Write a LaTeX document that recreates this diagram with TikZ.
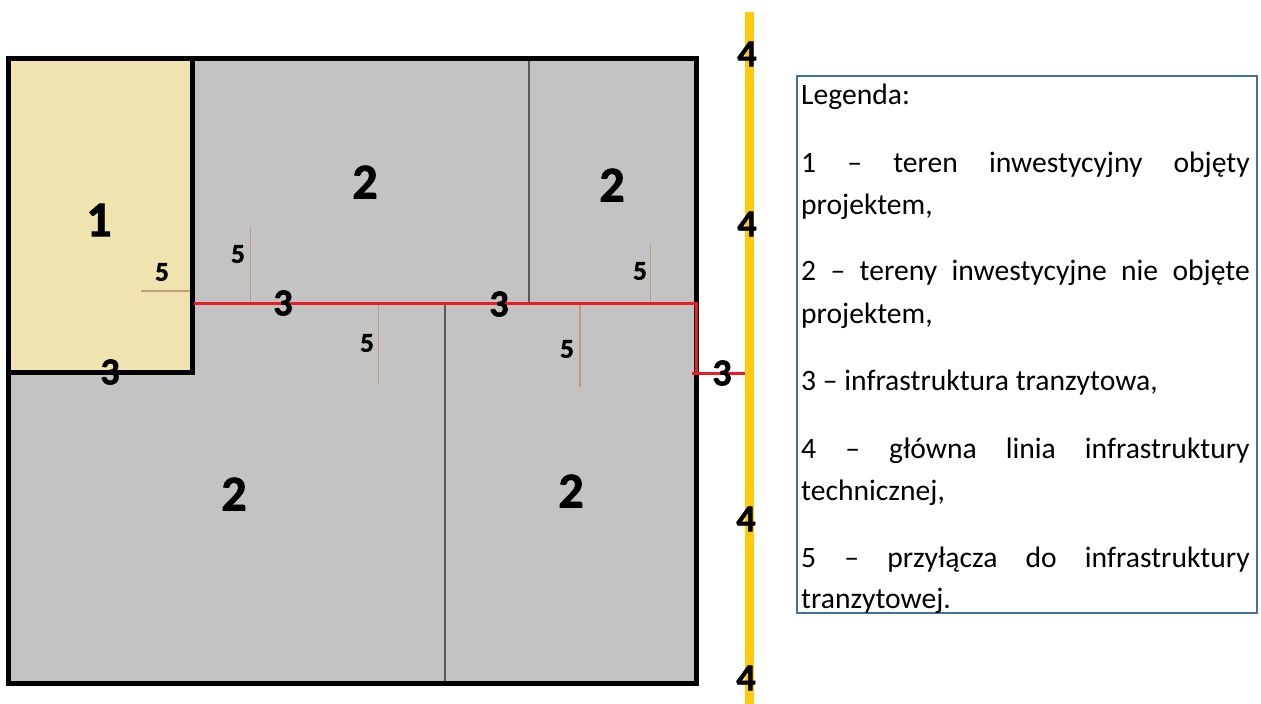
\documentclass[tikz,border=0pt]{standalone}
\usepackage{fontspec}
\setmainfont{Carlito}
\newfontfamily\heavy[FakeBold=1.6]{Carlito Bold}
\definecolor{plotgray}{HTML}{C3C3C3}
\definecolor{plotsand}{HTML}{EFE4B0}
\definecolor{pipered}{HTML}{ED1C24}
\definecolor{mainyellow}{HTML}{FFC90E}
\definecolor{linkbrown}{HTML}{C49A7C}
\definecolor{legendblue}{HTML}{41719C}
\definecolor{divider}{HTML}{5A5A5A}
\tikzset{
  big/.style={inner sep=0pt,font=\fontsize{50}{50}\heavy},
  mid/.style={inner sep=0pt,font=\fontsize{38}{38}\heavy},
  small/.style={inner sep=0pt,font=\fontsize{27}{27}\heavy},
  legline/.style={inner sep=0pt,anchor=base west,font=\fontsize{29.6}{29.6}\selectfont},
  link/.style={draw=linkbrown,line width=1.2pt},
  pipe/.style={draw=pipered,line width=3pt},
  divide/.style={draw=divider,line width=1.3pt},
}
\newcommand{\just}[1]{\hbox to 448.5pt{#1}}
\begin{document}
\begin{tikzpicture}[x=1pt,y=-1pt]
\useasboundingbox (0,0) rectangle (1261,704);
% plot
\fill[plotgray] (8.5,58.5) rectangle (696.5,683);
\fill[plotsand] (8.5,58.5) rectangle (192,372.5);
\coordinate (d1a) at (529,58); \coordinate (d1b) at (529,303);
\coordinate (d2a) at (445,303); \coordinate (d2b) at (445,683);
\draw[divide] (d1a) -- (d1b);
\draw[divide] (d2a) -- (d2b);
\draw[black,line width=5pt] (8.5,58.5) rectangle (696.5,683);
\draw[black,line width=5pt] (192,58.5) -- (192,372.5) -- (8.5,372.5);
% main line
\coordinate (m1) at (749.2,12); \coordinate (m2) at (749.2,704);
\draw[mainyellow,line width=8.6pt] (m1) -- (m2);
% connections
\coordinate (l1a) at (141,291); \coordinate (l1b) at (190,291);
\coordinate (l2a) at (250.5,227); \coordinate (l2b) at (250.5,303);
\coordinate (l3a) at (378.5,303); \coordinate (l3b) at (378.5,385);
\coordinate (l4a) at (650.5,244); \coordinate (l4b) at (650.5,303);
\coordinate (l5a) at (580,304); \coordinate (l5b) at (580,387);
\foreach \n in {1,...,5} \draw[link] (l\n a) -- (l\n b);
% transit
\coordinate (p1) at (194,303.5); \coordinate (p2) at (696.5,303.5);
\coordinate (p3) at (696.5,373.5); \coordinate (p4) at (692,373.5); \coordinate (p5) at (745,373.5);
\draw[pipe] (p1) -- (p2) -- (p3);
\draw[pipe] (p4) -- (p5);
% labels
\node[big] (n1) at (99,220) {1};
\node[big] (n2a) at (365,182) {2};
\node[big] (n2b) at (612,185) {2};
\node[big] (n2c) at (234,494) {2};
\node[big] (n2d) at (571,491) {2};
\node[mid] (n3a) at (283,303) {3};
\node[mid] (n3b) at (499,304) {3};
\node[mid] (n3c) at (110,372) {3};
\node[mid] (n3d) at (722,373) {3};
\node[mid] (n4a) at (747,54) {4};
\node[mid] (n4b) at (747,224) {4};
\node[mid] (n4c) at (746,519) {4};
\node[mid] (n4d) at (746,678) {4};
\node[small] (n5a) at (162,272) {5};
\node[small] (n5b) at (238,254) {5};
\node[small] (n5c) at (367,343) {5};
\node[small] (n5d) at (640,271) {5};
\node[small] (n5e) at (567,349) {5};
% legend
\draw[legendblue,line width=2pt] (797,76) rectangle (1257,613);
\node[legline] (t0) at (801,104) {Legenda:};
\node[legline] (t1) at (801,172) {\just{1\hfill –\hfill teren\hfill inwestycyjny\hfill objęty}};
\node[legline] (t2) at (801,214) {projektem,};
\node[legline] (t3) at (801,280) {\just{2\hfill –\hfill tereny\hfill inwestycyjne\hfill nie\hfill objęte}};
\node[legline] (t4) at (801,323) {projektem,};
\node[legline] (t5) at (801,390) {3 – infrastruktura tranzytowa,};
\node[legline] (t6) at (801,458) {\just{4\hfill –\hfill główna\hfill linia\hfill infrastruktury}};
\node[legline] (t7) at (801,500) {technicznej,};
\node[legline] (t8) at (801,567) {\just{5\hfill –\hfill przyłącza\hfill do\hfill infrastruktury}};
\node[legline] (t9) at (801,608) {tranzytowej.};
\end{tikzpicture}
\end{document}
